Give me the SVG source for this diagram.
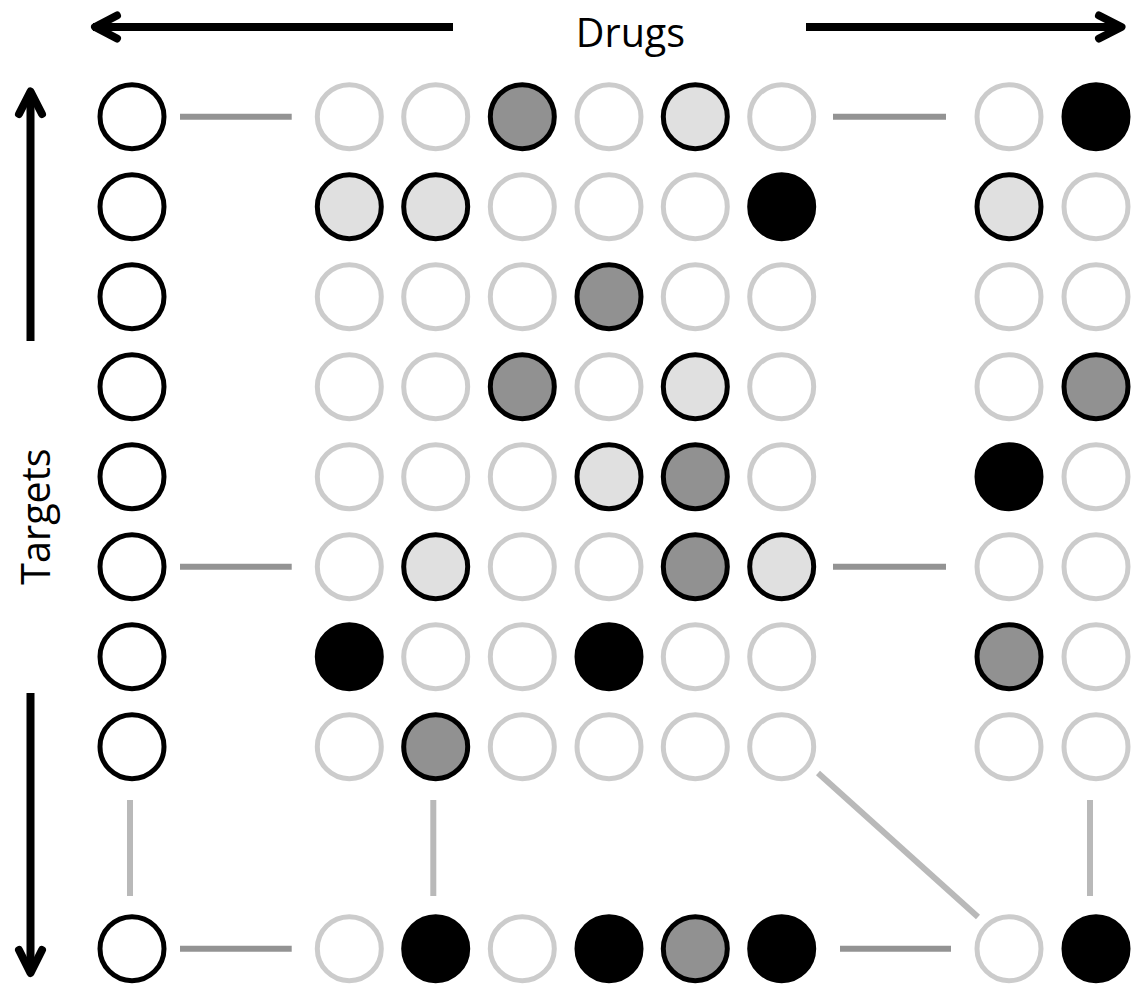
<svg xmlns="http://www.w3.org/2000/svg" width="1131" height="985" viewBox="0 0 1131 985">
  <style>
    .lbl { font-family: "Open Sans", "Liberation Sans", sans-serif; font-size: 39.5px; fill: #000; text-anchor: middle; }
    .shaft { stroke: #000; stroke-width: 8; fill: none; stroke-linecap: butt; }
    .head { stroke: #000; stroke-width: 8; fill: none; stroke-linecap: round; stroke-linejoin: round; }
    .node circle { stroke-width: 5; }
    .tgt { fill: #fff; stroke: #000; }
    .off { fill: #fff; stroke: #cccccc; }
    .lo { fill: #e0e0e0; stroke: #000; }
    .mid { fill: #919191; stroke: #000; }
    .hi { fill: #000; stroke: #000; }
    .link-h { stroke: #939393; stroke-width: 6; }
    .link-v { stroke: #b9b9b9; stroke-width: 6; }
  </style>

  <!-- axis arrows -->
  <g id="axes">
    <line class="shaft" x1="453" y1="27" x2="93" y2="27"/>
    <polyline class="head" points="117,15.5 95,27 117,38.5"/>
    <line class="shaft" x1="806" y1="27" x2="1120" y2="27"/>
    <polyline class="head" points="1099,15.5 1121.5,27 1099,38.5"/>
    <line class="shaft" x1="30.5" y1="341" x2="30.5" y2="93"/>
    <polyline class="head" points="19,114 30.5,91.5 42,114"/>
    <line class="shaft" x1="30.5" y1="693" x2="30.5" y2="971"/>
    <polyline class="head" points="19,950 30.5,973 42,950"/>
    <text class="lbl" x="630.5" y="46.5">Drugs</text>
    <text class="lbl" transform="translate(50,516.5) rotate(-90)" x="0" y="0">Targets</text>
  </g>

  <!-- connectors -->
  <g id="connectors">
    <line class="link-h" x1="180" y1="116.7" x2="291.7" y2="116.7"/>
    <line class="link-h" x1="833" y1="116.7" x2="946" y2="116.7"/>
    <line class="link-h" x1="180" y1="566.7" x2="291.7" y2="566.7"/>
    <line class="link-h" x1="833" y1="566.7" x2="946" y2="566.7"/>
    <line class="link-h" x1="180" y1="948.7" x2="291.7" y2="948.7"/>
    <line class="link-h" x1="840" y1="948.7" x2="951" y2="948.7"/>
    <line class="link-v" x1="130" y1="800" x2="130" y2="896"/>
    <line class="link-v" x1="433.3" y1="800" x2="433.3" y2="896"/>
    <line class="link-v" x1="1090" y1="800" x2="1090" y2="896"/>
    <line class="link-v" x1="818" y1="773" x2="978" y2="917"/>
  </g>

  <!-- target column -->
  <g id="targets" class="node">
    <circle class="tgt" cx="132" cy="116.7" r="32"/>
    <circle class="tgt" cx="132" cy="206.7" r="32"/>
    <circle class="tgt" cx="132" cy="296.7" r="32"/>
    <circle class="tgt" cx="132" cy="386.7" r="32"/>
    <circle class="tgt" cx="132" cy="476.7" r="32"/>
    <circle class="tgt" cx="132" cy="566.7" r="32"/>
    <circle class="tgt" cx="132" cy="656.7" r="32"/>
    <circle class="tgt" cx="132" cy="746.7" r="32"/>
    <circle class="tgt" cx="132" cy="948.7" r="32"/>
  </g>

  <!-- drug-target cells, one group per row -->
  <g id="row1" class="node">
    <circle class="off" cx="349.3" cy="116.7" r="32"/>
    <circle class="off" cx="435.7" cy="116.7" r="32"/>
    <circle class="mid" cx="522.3" cy="116.7" r="32"/>
    <circle class="off" cx="609" cy="116.7" r="32"/>
    <circle class="lo" cx="695.3" cy="116.7" r="32"/>
    <circle class="off" cx="781.7" cy="116.7" r="32"/>
    <circle class="off" cx="1009" cy="116.7" r="32"/>
    <circle class="hi" cx="1096" cy="116.7" r="32"/>
  </g>
  <g id="row2" class="node">
    <circle class="lo" cx="349.3" cy="206.7" r="32"/>
    <circle class="lo" cx="435.7" cy="206.7" r="32"/>
    <circle class="off" cx="522.3" cy="206.7" r="32"/>
    <circle class="off" cx="609" cy="206.7" r="32"/>
    <circle class="off" cx="695.3" cy="206.7" r="32"/>
    <circle class="hi" cx="781.7" cy="206.7" r="32"/>
    <circle class="lo" cx="1009" cy="206.7" r="32"/>
    <circle class="off" cx="1096" cy="206.7" r="32"/>
  </g>
  <g id="row3" class="node">
    <circle class="off" cx="349.3" cy="296.7" r="32"/>
    <circle class="off" cx="435.7" cy="296.7" r="32"/>
    <circle class="off" cx="522.3" cy="296.7" r="32"/>
    <circle class="mid" cx="609" cy="296.7" r="32"/>
    <circle class="off" cx="695.3" cy="296.7" r="32"/>
    <circle class="off" cx="781.7" cy="296.7" r="32"/>
    <circle class="off" cx="1009" cy="296.7" r="32"/>
    <circle class="off" cx="1096" cy="296.7" r="32"/>
  </g>
  <g id="row4" class="node">
    <circle class="off" cx="349.3" cy="386.7" r="32"/>
    <circle class="off" cx="435.7" cy="386.7" r="32"/>
    <circle class="mid" cx="522.3" cy="386.7" r="32"/>
    <circle class="off" cx="609" cy="386.7" r="32"/>
    <circle class="lo" cx="695.3" cy="386.7" r="32"/>
    <circle class="off" cx="781.7" cy="386.7" r="32"/>
    <circle class="off" cx="1009" cy="386.7" r="32"/>
    <circle class="mid" cx="1096" cy="386.7" r="32"/>
  </g>
  <g id="row5" class="node">
    <circle class="off" cx="349.3" cy="476.7" r="32"/>
    <circle class="off" cx="435.7" cy="476.7" r="32"/>
    <circle class="off" cx="522.3" cy="476.7" r="32"/>
    <circle class="lo" cx="609" cy="476.7" r="32"/>
    <circle class="mid" cx="695.3" cy="476.7" r="32"/>
    <circle class="off" cx="781.7" cy="476.7" r="32"/>
    <circle class="hi" cx="1009" cy="476.7" r="32"/>
    <circle class="off" cx="1096" cy="476.7" r="32"/>
  </g>
  <g id="row6" class="node">
    <circle class="off" cx="349.3" cy="566.7" r="32"/>
    <circle class="lo" cx="435.7" cy="566.7" r="32"/>
    <circle class="off" cx="522.3" cy="566.7" r="32"/>
    <circle class="off" cx="609" cy="566.7" r="32"/>
    <circle class="mid" cx="695.3" cy="566.7" r="32"/>
    <circle class="lo" cx="781.7" cy="566.7" r="32"/>
    <circle class="off" cx="1009" cy="566.7" r="32"/>
    <circle class="off" cx="1096" cy="566.7" r="32"/>
  </g>
  <g id="row7" class="node">
    <circle class="hi" cx="349.3" cy="656.7" r="32"/>
    <circle class="off" cx="435.7" cy="656.7" r="32"/>
    <circle class="off" cx="522.3" cy="656.7" r="32"/>
    <circle class="hi" cx="609" cy="656.7" r="32"/>
    <circle class="off" cx="695.3" cy="656.7" r="32"/>
    <circle class="off" cx="781.7" cy="656.7" r="32"/>
    <circle class="mid" cx="1009" cy="656.7" r="32"/>
    <circle class="off" cx="1096" cy="656.7" r="32"/>
  </g>
  <g id="row8" class="node">
    <circle class="off" cx="349.3" cy="746.7" r="32"/>
    <circle class="mid" cx="435.7" cy="746.7" r="32"/>
    <circle class="off" cx="522.3" cy="746.7" r="32"/>
    <circle class="off" cx="609" cy="746.7" r="32"/>
    <circle class="off" cx="695.3" cy="746.7" r="32"/>
    <circle class="off" cx="781.7" cy="746.7" r="32"/>
    <circle class="off" cx="1009" cy="746.7" r="32"/>
    <circle class="off" cx="1096" cy="746.7" r="32"/>
  </g>
  <g id="row9" class="node">
    <circle class="off" cx="349.3" cy="948.7" r="32"/>
    <circle class="hi" cx="435.7" cy="948.7" r="32"/>
    <circle class="off" cx="522.3" cy="948.7" r="32"/>
    <circle class="hi" cx="609" cy="948.7" r="32"/>
    <circle class="mid" cx="695.3" cy="948.7" r="32"/>
    <circle class="hi" cx="781.7" cy="948.7" r="32"/>
    <circle class="off" cx="1009" cy="948.7" r="32"/>
    <circle class="hi" cx="1096" cy="948.7" r="32"/>
  </g>
</svg>
